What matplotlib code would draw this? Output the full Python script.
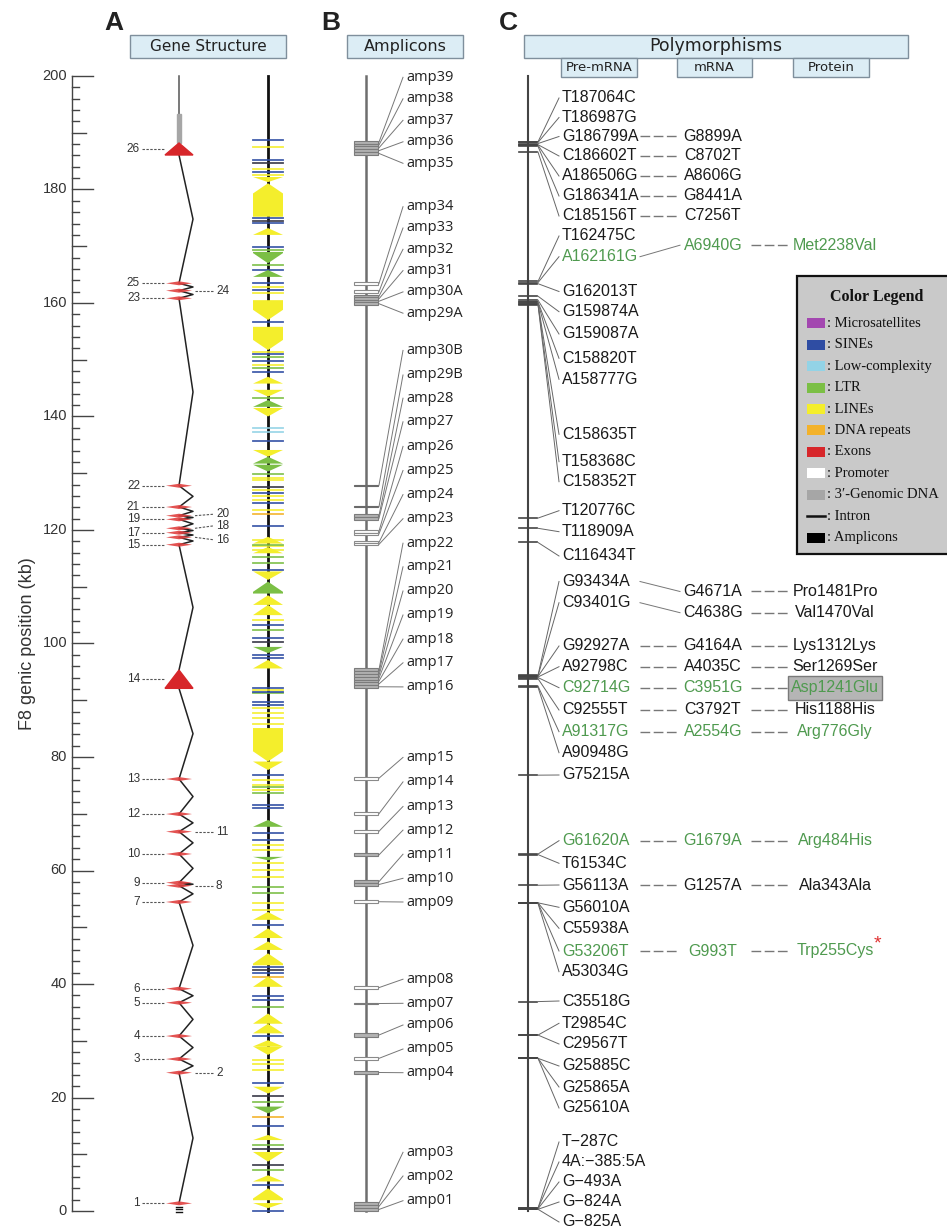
import matplotlib.pyplot as plt
from matplotlib.patches import Polygon, Rectangle

# ---------------- data (positions in kb along the F8 gene) ----------------
PX_PER_KB = 5.675
Y0_PX = 1211

# exons 1..26 : bottom / top of each exon mark
exon_bot = [1.35, 24.37, 26.78, 30.83, 36.70, 39.17, 54.45, 57.32, 57.85, 62.91,
            66.84, 69.95, 76.12, 92.10, 117.41, 118.71, 119.52, 120.30, 121.88,
            122.52, 124.05, 127.80, 160.83, 162.17, 163.47, 186.08]
exon_top = [1.35, 24.37, 26.78, 30.83, 36.70, 39.17, 54.45, 57.32, 57.85, 62.91,
            66.84, 69.95, 76.12, 95.32, 117.41, 118.71, 119.52, 120.30, 121.88,
            122.52, 124.05, 127.80, 160.83, 162.17, 163.47, 188.19]
exon_right = [2, 8, 11, 16, 18, 20, 24]
genomic3 = (188.2, 193.3)

# repeats: (low kb, high kb, shape)  u = points up, d = points down, f = thin mark
lines_rep = [(187.5, 187.5, "f"), (183.7, 183.7, "f"), (182.6, 182.6, "f"),
             (181.3, 182.2, "d"), (175.2, 181.1, "u"), (172.0, 173.2, "u"),
             (162.9, 162.9, "f"), (161.8, 161.8, "f"), (157.0, 160.5, "d"),
             (151.7, 155.8, "d"), (151.4, 151.4, "f"), (149.1, 149.1, "f"),
             (145.8, 147.0, "u"), (143.5, 144.7, "d"), (140.0, 141.5, "d"),
             (132.9, 134.1, "d"), (129.2, 129.2, "f"), (128.8, 128.8, "f"),
             (127.1, 127.1, "f"), (126.0, 126.0, "f"), (125.3, 125.3, "f"),
             (123.5, 123.5, "f"), (118.2, 118.2, "f"), (117.6, 118.8, "u"),
             (117.2, 117.2, "f"), (116.5, 116.5, "f"), (115.9, 117.0, "u"),
             (111.2, 112.7, "d"), (106.8, 108.5, "u"), (105.0, 106.8, "u"),
             (104.1, 104.1, "f"), (95.6, 97.1, "u"), (91.8, 91.8, "f"),
             (88.6, 88.6, "f"), (87.7, 87.7, "f"), (86.8, 86.8, "f"),
             (85.9, 85.9, "f"), (79.2, 85.1, "d"), (77.7, 79.2, "d"),
             (75.9, 75.9, "f"), (75.1, 75.1, "f"), (74.2, 74.2, "f"),
             (64.5, 64.5, "f"), (63.6, 63.6, "f"), (61.3, 61.3, "f"),
             (60.1, 60.1, "f"), (58.9, 58.9, "f"), (54.2, 54.2, "f"),
             (53.0, 53.0, "f"), (51.3, 52.7, "u"), (48.1, 49.8, "u"),
             (46.0, 47.5, "u"), (43.3, 45.4, "u"), (39.5, 41.3, "u"),
             (33.0, 34.8, "u"), (31.3, 33.0, "u"), (29.0, 30.1, "u"),
             (27.5, 29.0, "d"), (26.6, 26.6, "f"), (25.9, 25.9, "f"),
             (24.8, 24.8, "f"), (20.7, 21.9, "d"), (12.5, 13.4, "u"),
             (8.7, 10.4, "d"), (5.2, 6.3, "u"), (1.9, 4.0, "u"), (0.5, 1.4, "d")]
sines_rep = [(k, k, "f") for k in
             [188.7, 185.2, 183.1, 175.0, 174.1, 169.9, 165.8, 163.5, 162.3, 156.7,
              151.0, 149.7, 147.9, 135.6, 126.5, 124.7, 120.7, 113.0, 103.3, 100.9,
              98.0, 97.4, 92.1, 91.5, 89.7, 89.2, 76.8, 71.5, 71.0, 66.6, 65.4,
              50.4, 43.0, 41.9, 37.8, 37.2, 30.8, 22.6, 14.9, 4.6, 0.05]]
lowc_rep = [(137.9, 137.9, "f"), (137.3, 137.3, "f")]
ltr_rep = [(169.3, 169.3, "f"), (167.0, 169.0, "d"), (166.7, 166.7, "f"),
           (164.6, 165.8, "u"), (150.5, 150.5, "f"), (148.5, 148.5, "f"),
           (143.2, 143.2, "f"), (141.7, 142.9, "u"), (131.7, 132.9, "u"),
           (130.3, 131.5, "d"), (129.9, 129.9, "f"), (117.3, 117.3, "f"),
           (115.3, 115.3, "f"), (114.1, 114.1, "f"), (108.8, 110.9, "u"),
           (102.4, 102.4, "f"), (98.3, 99.4, "d"), (91.2, 91.2, "f"),
           (74.8, 74.8, "f"), (73.7, 73.7, "f"), (67.7, 68.9, "u"),
           (61.8, 62.4, "d"), (57.1, 57.1, "f"), (56.0, 56.0, "f"),
           (36.0, 36.0, "f"), (19.2, 19.2, "f"), (17.2, 18.4, "d"),
           (11.6, 11.6, "f"), (7.2, 7.2, "f")]
dna_rep = [(122.9, 122.9, "f"), (41.3, 41.3, "f"), (16.6, 16.6, "f")]
dark_rep = [(k, k, "f") for k in [184.6, 174.5, 127.6, 100.3, 42.5, 20.2, 11.0, 8.1]]

# amplicons, listed top-down
amp_names = ["amp39", "amp38", "amp37", "amp36", "amp35", "amp34", "amp33", "amp32",
             "amp31", "amp30A", "amp29A", "amp30B", "amp29B", "amp28", "amp27",
             "amp26", "amp25", "amp24", "amp23", "amp22", "amp21", "amp20", "amp19",
             "amp18", "amp17", "amp16", "amp15", "amp14", "amp13", "amp12", "amp11",
             "amp10", "amp09", "amp08", "amp07", "amp06", "amp05", "amp04", "amp03",
             "amp02", "amp01"]
amp_lo = [188.1, 187.6, 187.1, 186.6, 186.1, 163.17, 161.70, 160.97, 160.53, 160.09,
          159.65, 127.8, 124.0, 122.30, 121.85, 119.55, 119.10, 117.65, 117.30,
          95.15, 94.65, 94.14, 93.64, 93.13, 92.63, 92.12, 76.00, 69.70, 66.64,
          62.48, 57.79, 57.28, 54.22, 39.05, 36.42, 30.71, 26.61, 24.14, 1.10,
          0.55, 0.00]
amp_hi = [188.6, 188.1, 187.6, 187.1, 186.6, 163.75, 162.29, 161.41, 160.97, 160.53,
          160.09, 128.0, 124.2, 122.78, 122.30, 120.00, 119.55, 118.00, 117.65,
          95.66, 95.15, 94.65, 94.14, 93.64, 93.13, 92.63, 76.54, 70.34, 67.19,
          63.03, 58.30, 57.79, 54.77, 39.68, 36.70, 31.31, 27.19, 24.67, 1.64,
          1.10, 0.55]
amp_style = ["g", "g", "g", "g", "g", "w", "w", "g", "g", "g", "g", "d", "d", "g", "g",
             "w", "w", "w", "w", "g", "g", "g", "g", "g", "g", "g", "w", "w", "w",
             "g", "g", "g", "w", "w", "g", "g", "w", "g", "g", "g", "g"]

# polymorphisms, listed top-down
snp_pre = ["T187064C", "T186987G", "G186799A", "C186602T", "A186506G", "G186341A",
           "C185156T", "T162475C", "A162161G", "G162013T", "G159874A", "G159087A",
           "C158820T", "A158777G", "C158635T", "T158368C", "C158352T", "T120776C",
           "T118909A", "C116434T", "G93434A", "C93401G", "G92927A", "A92798C",
           "C92714G", "C92555T", "A91317G", "A90948G", "G75215A", "G61620A",
           "T61534C", "G56113A", "G56010A", "C55938A", "G53206T", "A53034G",
           "C35518G", "T29854C", "C29567T", "G25885C", "G25865A", "G25610A",
           "T\u2212287C", "4A:\u2212385:5A", "G\u2212493A", "G\u2212824A", "G\u2212825A"]
snp_tick = [188.4, 188.3, 188.1, 187.9, 187.8, 187.6, 186.6, 163.8, 163.6, 163.4,
            161.2, 160.5, 160.2, 160.1, 159.9, 159.8, 159.7, 122.1, 120.3, 117.8,
            94.4, 94.3, 94.2, 94.1, 94.0, 93.8, 92.5, 92.3, 76.8, 62.9, 62.8,
            57.4, 54.3, 54.3, 54.3, 54.2, 36.9, 31.0, 31.0, 26.9, 26.9, 26.9,
            0.5, 0.5, 0.4, 0.3, 0.3]
snp_mrna = {"G186799A": "G8899A", "C186602T": "C8702T", "A186506G": "A8606G",
            "G186341A": "G8441A", "C185156T": "C7256T", "A162161G": "A6940G",
            "G93434A": "G4671A", "C93401G": "C4638G", "G92927A": "G4164A",
            "A92798C": "A4035C", "C92714G": "C3951G", "C92555T": "C3792T",
            "A91317G": "A2554G", "G61620A": "G1679A", "G56113A": "G1257A",
            "G53206T": "G993T"}
snp_prot = {"A162161G": "Met2238Val", "G93434A": "Pro1481Pro", "C93401G": "Val1470Val",
            "G92927A": "Lys1312Lys", "A92798C": "Ser1269Ser", "C92714G": "Asp1241Glu",
            "C92555T": "His1188His", "A91317G": "Arg776Gly", "G61620A": "Arg484His",
            "G56113A": "Ala343Ala", "G53206T": "Trp255Cys"}
snp_green = ["A162161G", "C92714G", "A91317G", "G61620A", "G53206T"]

legend_names = ["Microsatellites", "SINEs", "Low-complexity", "LTR", "LINEs",
                "DNA repeats", "Exons", "Promoter", "3\u2032-Genomic DNA", "Intron",
                "Amplicons"]
legend_colors = ["#a347b0", "#2f4da3", "#93d3e6", "#7bbf45", "#f4ee2c", "#f3b22a",
                 "#d7262a", "#ffffff", "#a6a6a6", None, "#000000"]

# ---------------- layout ----------------
def kb(px):
    return (Y0_PX - px) / PX_PER_KB

C_REP = 268
HW = 15
X_GENE = 179
X_ZIG = 193
X_AMP = 366
X_POLY = 528
GREEN = "#4f9a4f"
SANS = "Liberation Sans"

amp_label_px = [77.3, 98.8, 120.3, 141.8, 163.3, 206.7, 228, 249.3, 270.6, 291.9,
                313.2, 350.4, 375, 398.2, 421.8, 446.4, 470.5, 494.6, 518.7, 543.2,
                566.8, 591, 615, 639.1, 662.8, 686.9, 757.4, 781.9, 806.5, 830.1,
                854.2, 878.3, 902, 979.2, 1003.3, 1025, 1049, 1072.7, 1152.3, 1176,
                1200.7]
snp_label_px = [98, 117.5, 136.5, 156, 176, 196, 216, 236, 256.7, 291.5, 311.7, 334,
                358.3, 379.3, 434.3, 461.7, 481.7, 510.7, 531.7, 556, 581.5, 602.7,
                646, 666.7, 687.7, 710, 731.7, 752.7, 775, 840.7, 863.3, 885, 907.3,
                928.3, 951, 971.7, 1001, 1023.3, 1044, 1066, 1087, 1108, 1142, 1162,
                1182, 1202, 1222]
mrna_shift_px = {"A162161G": -11.5, "G93434A": 10, "C93401G": 10}
# small nudges (px) of crowded exon numbers on the right side
exon_label_nudge = {20: -1.5, 18: -2.5, 16: 2.5}

fig = plt.figure(figsize=(9.47, 12.31), dpi=100)
ax = fig.add_axes([0, 0, 1, 1])
ax.set_xlim(0, 947)
ax.set_ylim(kb(1231), kb(0))
ax.axis("off")


def box(x0, x1, y0, y1, fc, ec, lw=1.0, z=3):
    ax.add_patch(Rectangle((x0, kb(y1)), x1 - x0, kb(y0) - kb(y1), facecolor=fc,
                           edgecolor=ec, lw=lw, zorder=z))


# headers
for x0, x1, txt, fs in [(130, 286, "Gene Structure", 11), (347, 463, "Amplicons", 11.5),
                        (524, 908, "Polymorphisms", 12.5)]:
    box(x0, x1, 35, 58, "#dcedf5", "#7f8f9c")
    ax.text((x0 + x1) / 2, kb(46.5), txt, ha="center", va="center", fontsize=fs,
            family="DejaVu Sans", color="#222")
for x0, x1, txt in [(561, 637, "Pre-mRNA"), (677, 752, "mRNA"), (793, 869, "Protein")]:
    box(x0, x1, 58, 77, "#dcedf5", "#7f8f9c")
    ax.text((x0 + x1) / 2, kb(67.5), txt, ha="center", va="center", fontsize=9.5,
            family="DejaVu Sans", color="#222")
for x, t in [(114, "A"), (331, "B"), (508, "C")]:
    ax.text(x, kb(23), t, ha="center", va="center", fontsize=19, fontweight="bold",
            family=SANS, color="#222")

# position axis
ax.plot([72, 72], [0, 200], color="#444", lw=1)
for v in range(0, 201, 2):
    L = 21 if v % 20 == 0 else (14 if v % 10 == 0 else 7)
    ax.plot([72, 72 + L], [v, v], color="#444", lw=1)
    if v % 20 == 0:
        ax.text(67, v, str(v), ha="right", va="center", fontsize=10.5, family=SANS,
                color="#333")
ax.text(28, 100, "F8 genic position (kb)", rotation=90, ha="center", va="center",
        fontsize=13, family=SANS, color="#333")

# gene structure
ax.plot([X_GENE, X_GENE], [genomic3[1], 200], color="#555", lw=1.1)
ax.add_patch(Rectangle((X_GENE - 2.2, genomic3[0]), 4.4, genomic3[1] - genomic3[0],
                       color="#a6a6a6", zorder=3))
zig = [(X_GENE, exon_top[0])]
for i in range(len(exon_bot) - 1):
    zig.append((X_ZIG, (exon_top[i] + exon_bot[i + 1]) / 2))
    zig.append((X_GENE, exon_bot[i + 1]))
    zig.append((X_GENE, exon_top[i + 1]))
ax.plot([p[0] for p in zig], [p[1] for p in zig], color="#222", lw=1.1, zorder=2)
for i, (b, t) in enumerate(zip(exon_bot, exon_top)):
    n = i + 1
    if t - b > 1:
        ax.add_patch(Polygon([(X_GENE, t), (X_GENE + 14, b), (X_GENE - 14, b)],
                             closed=True, color="#d7262a", zorder=4))
    else:
        ax.add_patch(Polygon([(X_GENE - 13, b), (X_GENE, b + 0.35), (X_GENE + 13, b),
                              (X_GENE, b - 0.35)], closed=True, color="#e0403f",
                             alpha=0.9, lw=0, zorder=4))
    yc = (b + t) / 2
    if n in exon_right:
        yl = yc - exon_label_nudge.get(n, 0) / PX_PER_KB
        ax.plot([195, 214], [yc, yl], color="#555", lw=0.8, ls=(0, (2.2, 1.3)))
        ax.text(216, yl, str(n), ha="left", va="center", fontsize=8.5, family=SANS,
                color="#333")
    else:
        ax.plot([142, 164], [yc, yc], color="#555", lw=0.8, ls=(0, (2.2, 1.3)))
        ax.text(140, yc, str(n), ha="right", va="center", fontsize=8.5, family=SANS,
                color="#333")
for k in [0.75, 0.3, -0.15]:
    ax.plot([X_GENE - 3, X_GENE + 3], [k, k], color="#111", lw=1.0)

# repeats column
ax.plot([C_REP, C_REP], [0, 200], color="#111", lw=2, zorder=1)


def draw_rep(items, color):
    for lo, hi, shape in items:
        if shape == "f":
            ax.plot([C_REP - HW, C_REP + HW], [lo, lo], color=color, lw=1.3,
                    alpha=0.9, zorder=2)
            continue
        T = min(hi - lo, 1.8)
        if shape == "u":
            pts = [(C_REP, hi), (C_REP + HW, hi - T), (C_REP + HW, lo),
                   (C_REP - HW, lo), (C_REP - HW, hi - T)]
        else:
            pts = [(C_REP, lo), (C_REP + HW, lo + T), (C_REP + HW, hi),
                   (C_REP - HW, hi), (C_REP - HW, lo + T)]
        ax.add_patch(Polygon(pts, closed=True, color=color, lw=0, zorder=3))


draw_rep(lines_rep, legend_colors[4])
draw_rep(ltr_rep, legend_colors[3])
draw_rep(sines_rep, legend_colors[1])
draw_rep(lowc_rep, legend_colors[2])
draw_rep(dna_rep, legend_colors[5])
draw_rep(dark_rep, "#333344")

# amplicons
ax.plot([X_AMP, X_AMP], [0, 200], color="#6e6e6e", lw=1.8, zorder=1)
styles = {"g": ("#b3b3b3", "#7c7c7c"), "w": ("#ffffff", "#8a8a8a"),
          "d": ("#6a6a6a", "#6a6a6a")}
for name, lo, hi, st, lp in zip(amp_names, amp_lo, amp_hi, amp_style, amp_label_px):
    fc, ec = styles[st]
    ax.add_patch(Rectangle((354, lo), 24, hi - lo, facecolor=fc, edgecolor=ec,
                           lw=0.8, zorder=3))
    ax.plot([379, 403], [(lo + hi) / 2, kb(lp)], color="#777", lw=0.7)
    ax.text(406, kb(lp), name, ha="left", va="center", fontsize=10.5,
            family="Open Sans", color="#222")

# polymorphisms
ax.plot([X_POLY, X_POLY], [0, 200], color="#444", lw=1.5, zorder=1)
for name, t, lp in zip(snp_pre, snp_tick, snp_label_px):
    col = GREEN if name in snp_green else "#1a1a1a"
    y = kb(lp)
    ax.plot([519, 537], [t, t], color="#444", lw=1.2)
    ax.plot([538, 559], [t, y], color="#666", lw=0.7)
    ax.text(562, y, name, ha="left", va="center", fontsize=11.5, family=SANS,
            color=col)
    if name in snp_mrna:
        ym = kb(lp + mrna_shift_px.get(name, 0))
        if name in mrna_shift_px:
            ax.plot([640, 680], [y, ym], color="#777", lw=0.7)
        else:
            ax.plot([640, 677], [y, y], color="#777", lw=1, ls=(0, (7, 2.5)))
        ax.text(713, ym, snp_mrna[name], ha="center", va="center", fontsize=11.5,
                family=SANS, color=col)
        if name in snp_prot:
            if snp_prot[name] == "Asp1241Glu":
                box(788, 882, lp - 12, lp + 12, "#b5b5b5", "#7a7a7a")
            ax.plot([751, 789], [ym, ym], color="#777", lw=1, ls=(0, (7, 2.5)))
            ax.text(835, ym, snp_prot[name], ha="center", va="center", fontsize=11.5,
                    family=SANS, color=col, zorder=5)
            if snp_prot[name] == "Trp255Cys":
                ax.text(874, kb(lp - 7), "*", ha="left", va="center", fontsize=14,
                        color="#e03030", family=SANS)

# colour legend
box(797, 952, 276, 554, "#c9c9c9", "#111", lw=1.6)
ax.text(877, kb(297), "Color Legend", ha="center", va="center", fontsize=11.5,
        fontweight="bold", family="Liberation Serif", color="#111")
for i, (nm, c) in enumerate(zip(legend_names, legend_colors)):
    yp = 323.3 + i * 21.44
    if c is None:
        ax.plot([807, 825], [kb(yp), kb(yp)], color="#111", lw=1.8, zorder=5)
    else:
        box(807, 825, yp - 5, yp + 5, c, c, lw=0, z=4)
    ax.text(827, kb(yp), ": " + nm, ha="left", va="center", fontsize=10.5,
            family="Liberation Serif", color="#111")

fig.savefig("out.png", dpi=100)
